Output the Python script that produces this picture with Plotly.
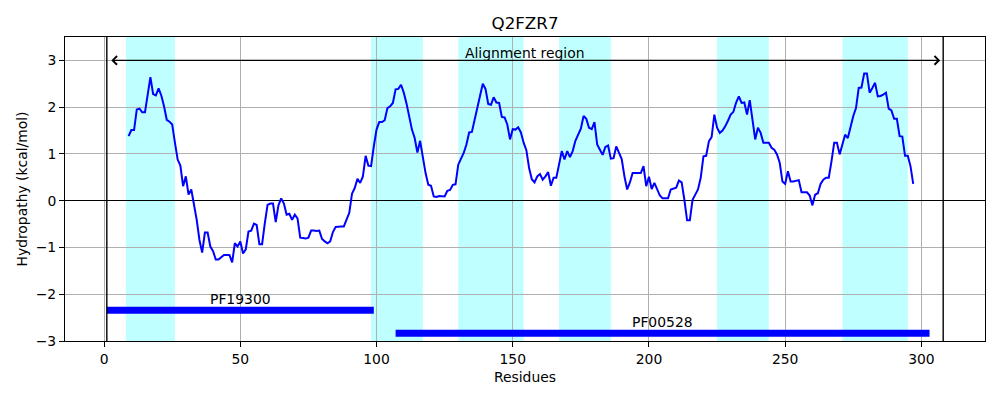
import plotly.graph_objects as go

# ---------------- data ----------------
title_text = "Q2FZR7"
x_label = "Residues"
y_label = "Hydropathy (kcal/mol)"

first_residue = 9
hydropathy = [
    1.38, 1.51, 1.51, 1.95, 1.97, 1.89, 1.89, 2.31, 2.64, 2.28,   # 9-18
    2.25, 2.40, 2.25, 2.02, 1.73, 1.69, 1.63, 1.24, 0.88, 0.75,   # 19-28
    0.31, 0.52, 0.13, 0.24, -0.05, -0.41, -0.84, -1.11, -0.68, -0.68,  # 29-38
    -0.98, -1.08, -1.26, -1.26, -1.21, -1.16, -1.16, -1.16, -1.32, -0.91,  # 39-48
    -0.98, -0.87, -1.13, -1.04, -0.66, -0.64, -0.49, -0.52, -0.93, -0.93,  # 49-58
    -0.48, -0.09, -0.06, -0.06, -0.46, -0.10, 0.05, -0.06, -0.30, -0.28,  # 59-68
    -0.41, -0.30, -0.38, -0.79, -0.80, -0.81, -0.79, -0.64, -0.64, -0.65,  # 69-78
    -0.64, -0.82, -0.87, -0.91, -0.87, -0.67, -0.56, -0.55, -0.55, -0.55,  # 79-88
    -0.42, -0.26, 0.15, 0.27, 0.47, 0.38, 0.52, 0.96, 0.75, 0.74,  # 89-98
    1.16, 1.52, 1.68, 1.68, 1.72, 1.98, 2.02, 2.09, 2.38, 2.39,   # 99-108
    2.48, 2.31, 2.08, 1.81, 1.52, 1.34, 1.03, 1.28, 0.91, 0.59,   # 109-118
    0.34, 0.32, 0.09, 0.08, 0.10, 0.09, 0.09, 0.21, 0.23, 0.34,   # 119-128
    0.35, 0.77, 0.88, 1.02, 1.20, 1.46, 1.47, 1.73, 2.02, 2.27,   # 129-138
    2.50, 2.39, 2.07, 2.05, 2.21, 2.10, 2.09, 1.79, 1.78, 1.63,   # 139-148
    1.31, 1.53, 1.52, 1.57, 1.46, 1.24, 1.08, 0.70, 0.46, 0.39,   # 149-158
    0.52, 0.57, 0.45, 0.52, 0.61, 0.32, 0.49, 0.49, 0.81, 1.06,   # 159-168
    0.88, 1.06, 0.93, 1.06, 1.28, 1.41, 1.54, 1.81, 1.75, 1.56,   # 169-178
    1.53, 1.68, 1.20, 1.09, 0.98, 1.15, 1.18, 0.90, 0.91, 1.16,   # 179-188
    1.03, 0.89, 0.52, 0.24, 0.39, 0.59, 0.59, 0.59, 0.59, 0.74,   # 189-198
    0.31, 0.51, 0.25, 0.38, 0.24, 0.11, 0.05, 0.05, 0.05, 0.24,   # 199-208
    0.26, 0.28, 0.43, 0.39, 0.02, -0.42, -0.42, 0.02, 0.13, 0.24,  # 209-218
    0.49, 0.95, 0.96, 1.27, 1.36, 1.84, 1.56, 1.45, 1.50, 1.59,   # 219-228
    1.71, 1.84, 1.90, 2.10, 2.23, 2.09, 2.10, 1.84, 2.15, 1.73,   # 229-238
    1.31, 1.56, 1.45, 1.24, 1.24, 1.24, 1.13, 1.09, 0.99, 0.81,   # 239-248
    0.41, 0.36, 0.63, 0.41, 0.41, 0.43, 0.44, 0.18, 0.18, 0.18,   # 249-258
    0.11, -0.10, 0.13, 0.16, 0.36, 0.45, 0.49, 0.49, 0.84, 1.24,  # 259-268
    1.24, 0.99, 1.20, 1.41, 1.34, 1.58, 1.81, 1.98, 2.41, 2.42,   # 269-278
    2.72, 2.72, 2.31, 2.41, 2.52, 2.23, 2.24, 2.27, 2.31, 1.97,   # 279-288
    1.93, 1.75, 1.75, 1.38, 1.37, 0.96, 0.96, 0.74, 0.36,         # 289-297
]
residues = list(range(first_residue, first_residue + len(hydropathy)))

# predicted transmembrane segments (shaded)
tm_starts = [8, 98, 130, 167, 225, 271]
tm_ends = [26, 117, 154, 186, 244, 295]

# alignment region
align_start = 1
align_end = 308
align_label = "Alignment region"
align_level = 3.0

# Pfam domains
domain_names = ["PF19300", "PF00528"]
domain_starts = [1, 107]
domain_ends = [99, 303]
domain_levels = [-2.34, -2.835]

# axes
x_ticks = [0, 50, 100, 150, 200, 250, 300]
x_ticklabels = ["0", "50", "100", "150", "200", "250", "300"]
y_ticks = [-3, -2, -1, 0, 1, 2, 3]
y_ticklabels = ["\u22123", "\u22122", "\u22121", "0", "1", "2", "3"]
x_range = [-14.35, 323.35]
y_range = [-3.0, 3.5]

# ---------------- figure ----------------
FONT = "DejaVu Sans"
fig = go.Figure()

# shaded TM regions (below grid)
for s, e in zip(tm_starts, tm_ends):
    fig.add_shape(type="rect", xref="x", yref="paper", x0=s, x1=e, y0=0, y1=1,
                  fillcolor="#bfffff", line=dict(width=0), layer="below")

# hydropathy profile
fig.add_trace(go.Scatter(x=residues, y=hydropathy, mode="lines",
                         line=dict(color="#0000ff", width=2), hoverinfo="x+y"))

# domain bars
for name, s, e, lvl in zip(domain_names, domain_starts, domain_ends, domain_levels):
    fig.add_trace(go.Scatter(x=[s, e], y=[lvl, lvl], mode="lines",
                             line=dict(color="#0000ff", width=7), name=name,
                             hoverinfo="name"))
    fig.add_annotation(x=(s + e) / 2, y=lvl + 0.245, text=name, showarrow=False,
                       xanchor="center", yanchor="middle",
                       font=dict(family=FONT, size=13.9, color="black"))

# alignment region bounds
for xv in (align_start, align_end):
    fig.add_shape(type="line", xref="x", yref="paper", x0=xv, x1=xv, y0=0, y1=1,
                  line=dict(color="black", width=1.4), layer="above")

# double-headed arrow
fig.add_annotation(x=align_end, y=align_level, ax=align_start, ay=align_level,
                   xref="x", yref="y", axref="x", ayref="y", text="",
                   showarrow=True, arrowside="end+start", arrowhead=4,
                   startarrowhead=4, arrowsize=1.4, startarrowsize=1.4,
                   arrowwidth=1.2, arrowcolor="black", standoff=3, startstandoff=3)
fig.add_annotation(x=(align_start + align_end) / 2, y=align_level + 0.15,
                   text=align_label, showarrow=False, xanchor="center", yanchor="middle",
                   font=dict(family=FONT, size=13.9, color="black"))

axis_common = dict(showgrid=True, gridcolor="#b0b0b0", gridwidth=0.8,
                   showline=True, mirror=True, linecolor="black", linewidth=1,
                   ticks="outside", ticklen=5, tickwidth=1, tickcolor="black",
                   tickfont=dict(family=FONT, size=13.9, color="black"))

fig.update_xaxes(range=x_range, tickmode="array", tickvals=x_ticks,
                 ticktext=x_ticklabels, zeroline=False,
                 title=dict(text=x_label, standoff=6,
                            font=dict(family=FONT, size=13.9, color="black")),
                 **axis_common)
fig.update_yaxes(range=y_range, tickmode="array", tickvals=y_ticks,
                 ticktext=y_ticklabels, zeroline=True, zerolinecolor="black",
                 zerolinewidth=1,
                 title=dict(text=y_label, standoff=4,
                            font=dict(family=FONT, size=13.9, color="black")),
                 **axis_common)

fig.update_layout(
    width=1000, height=400,
    margin=dict(l=57, r=23, t=29, b=67),
    plot_bgcolor="white", paper_bgcolor="white",
    showlegend=False,
    font=dict(family=FONT, size=13.9, color="black"),
    title=dict(text=title_text, x=0.5, xref="paper", xanchor="center",
               y=1 - 15 / 400, yref="container", yanchor="middle",
               font=dict(family=FONT, size=16.7, color="black")),
)

fig.write_html("out.html")
